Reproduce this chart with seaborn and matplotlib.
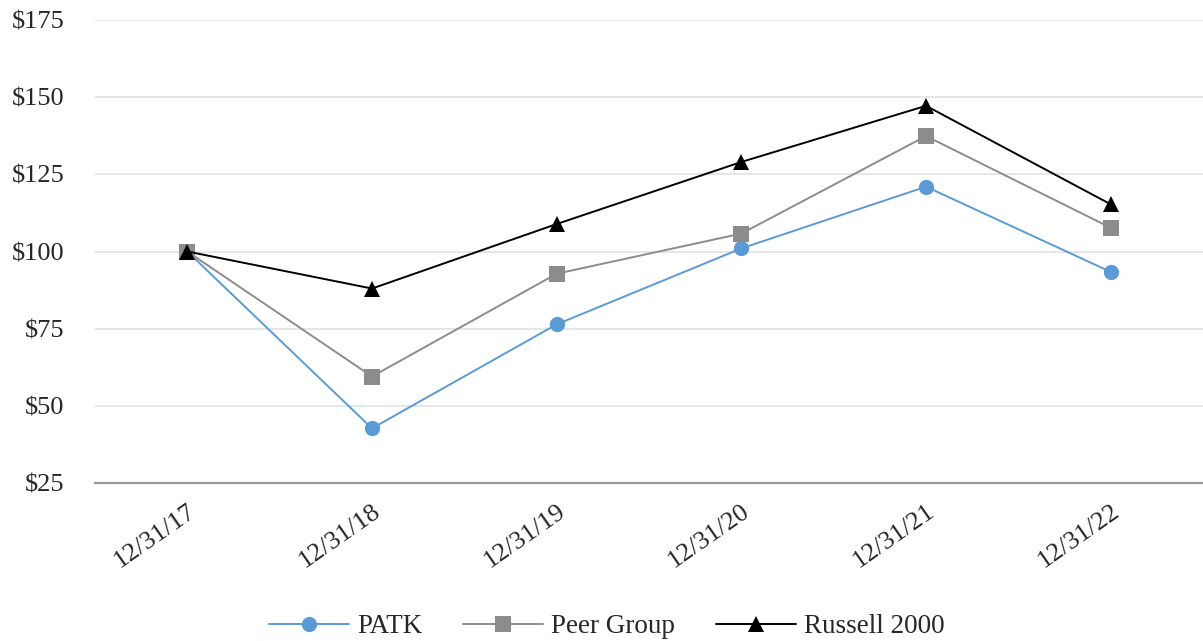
import numpy as np
import pandas as pd
import matplotlib
matplotlib.use("Agg")
import matplotlib.pyplot as plt
import seaborn as sns

dates = ["12/31/17", "12/31/18", "12/31/19", "12/31/20", "12/31/21", "12/31/22"]
patk = [100, 42.7, 76.4, 101.0, 121.0, 93.4]
peer = [100, 59.5, 92.8, 105.8, 137.4, 107.7]
russell = [100, 88.0, 108.9, 129.0, 147.2, 115.3]

series = ["PATK", "Peer Group", "Russell 2000"]
colors = ["#5b9bd5", "#8c8c8c", "#000000"]
markers = ["o", "s", "^"]

# long form for seaborn
rows = []
for name, vals in zip(series, [patk, peer, russell]):
    for i, v in enumerate(vals):
        rows.append([name, i, v])
df = pd.DataFrame(rows, columns=["Series", "Pos", "Value"])

sns.set_style("white")
plt.rcParams["font.family"] = ["Liberation Serif", "DejaVu Serif"]

fig = plt.figure(figsize=(12.03, 6.41), dpi=100)
ax = fig.add_axes([95 / 1203, 1 - 483 / 641, 1 - 95 / 1203, (483 - 20) / 641])

sns.lineplot(data=df, x="Pos", y="Value", hue="Series", style="Series",
             palette=colors, markers=markers, dashes=False, markersize=11,
             linewidth=1.4, markeredgewidth=0, ax=ax, zorder=3)

ax.set_xlim(-0.5, 5.5)
ax.set_ylim(25, 175)
ax.set_yticks(range(25, 176, 25))
ax.set_yticklabels([f"${v}" for v in range(25, 176, 25)], fontsize=19)
ax.set_xticks(range(len(dates)))
ax.set_xticklabels(dates, fontsize=19, rotation=35, ha="right",
                   rotation_mode="anchor")
ax.set_xlabel("")
ax.set_ylabel("")
ax.tick_params(axis="y", length=0, pad=22)
ax.tick_params(axis="x", length=0, pad=12)
ax.yaxis.grid(True, color="#dfe3e5", linewidth=1.2)
ax.set_axisbelow(True)
for s in ["top", "right", "left"]:
    ax.spines[s].set_visible(False)
ax.spines["bottom"].set_color("#9a9a9a")
ax.spines["bottom"].set_linewidth(1.6)

handles, labels = ax.get_legend_handles_labels()
for h in handles:
    h.set_markersize(11)
ax.legend(handles, labels, loc="center", bbox_to_anchor=(0.462, -0.311),
          ncol=3, frameon=False, fontsize=19.5, handlelength=2.95,
          columnspacing=1.5, handletextpad=0.3)

fig.savefig("out.png", dpi=100)
